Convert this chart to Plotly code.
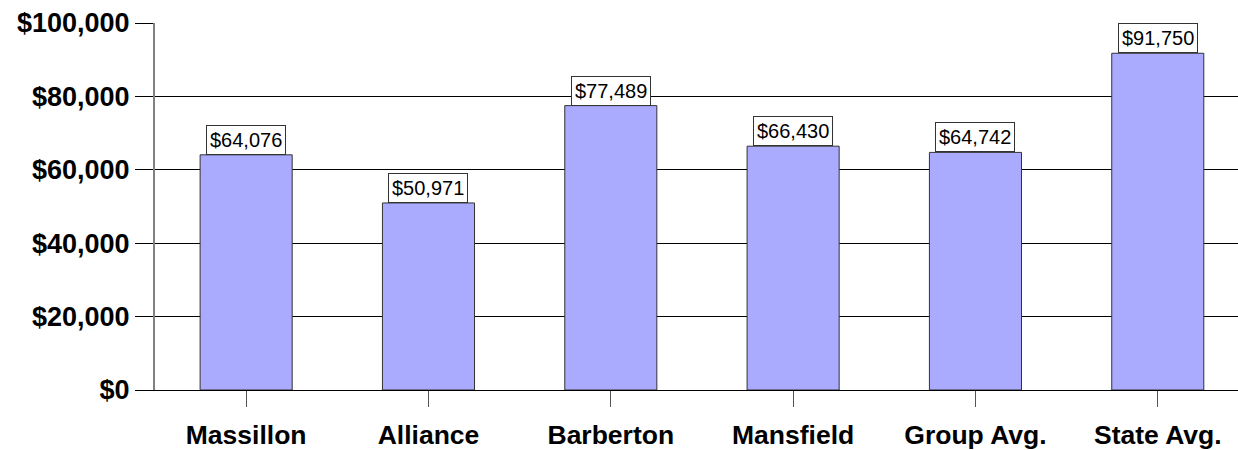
import plotly.graph_objects as go

# Median household income by community
cities = ["Massillon", "Alliance", "Barberton", "Mansfield", "Group Avg.", "State Avg."]
incomes = [64076, 50971, 77489, 66430, 64742, 91750]
y_ticks = [0, 20000, 40000, 60000, 80000, 100000]
y_tick_labels = [f"${v:,}" for v in y_ticks]

fig = go.Figure()
fig.add_trace(go.Bar(
    x=cities,
    y=incomes,
    width=0.505,
    marker=dict(color="#AAAAFF", line=dict(color="#333333", width=1)),
    hoverinfo="skip",
))

# Boxed value labels sitting on top of each bar
for city, val in zip(cities, incomes):
    fig.add_annotation(
        x=city, y=val, xref="x", yref="y",
        text=f"${val:,}",
        showarrow=False,
        yanchor="bottom",
        font=dict(family="Liberation Sans", size=20, color="black"),
        bgcolor="white",
        bordercolor="#333333",
        borderwidth=1,
        borderpad=3,
    )

fig.update_layout(
    width=1238, height=450,
    margin=dict(l=155, r=0, t=23, b=58),
    paper_bgcolor="white",
    plot_bgcolor="white",
    showlegend=False,
    font=dict(family="Liberation Sans", color="black"),
    xaxis=dict(
        range=[-0.5, 5.44],
        showgrid=False,
        showline=True, linecolor="black", linewidth=1,
        ticks="outside", ticklen=16, tickcolor="#555555", tickwidth=1,
        tickfont=dict(family="Liberation Sans", size=26.5, color="black", weight="bold"),
        ticklabelstandoff=5,
    ),
    yaxis=dict(
        range=[0, 100000],
        tickmode="array",
        tickvals=y_ticks,
        ticktext=y_tick_labels,
        showgrid=True, gridcolor="black", gridwidth=1,
        showline=True, linecolor="#808080", linewidth=2,
        zeroline=False,
        ticks="outside", ticklen=18, tickcolor="black", tickwidth=1,
        tickfont=dict(family="Liberation Sans", size=27, color="black", weight="bold"),
    ),
)

fig.write_html("out.html")
